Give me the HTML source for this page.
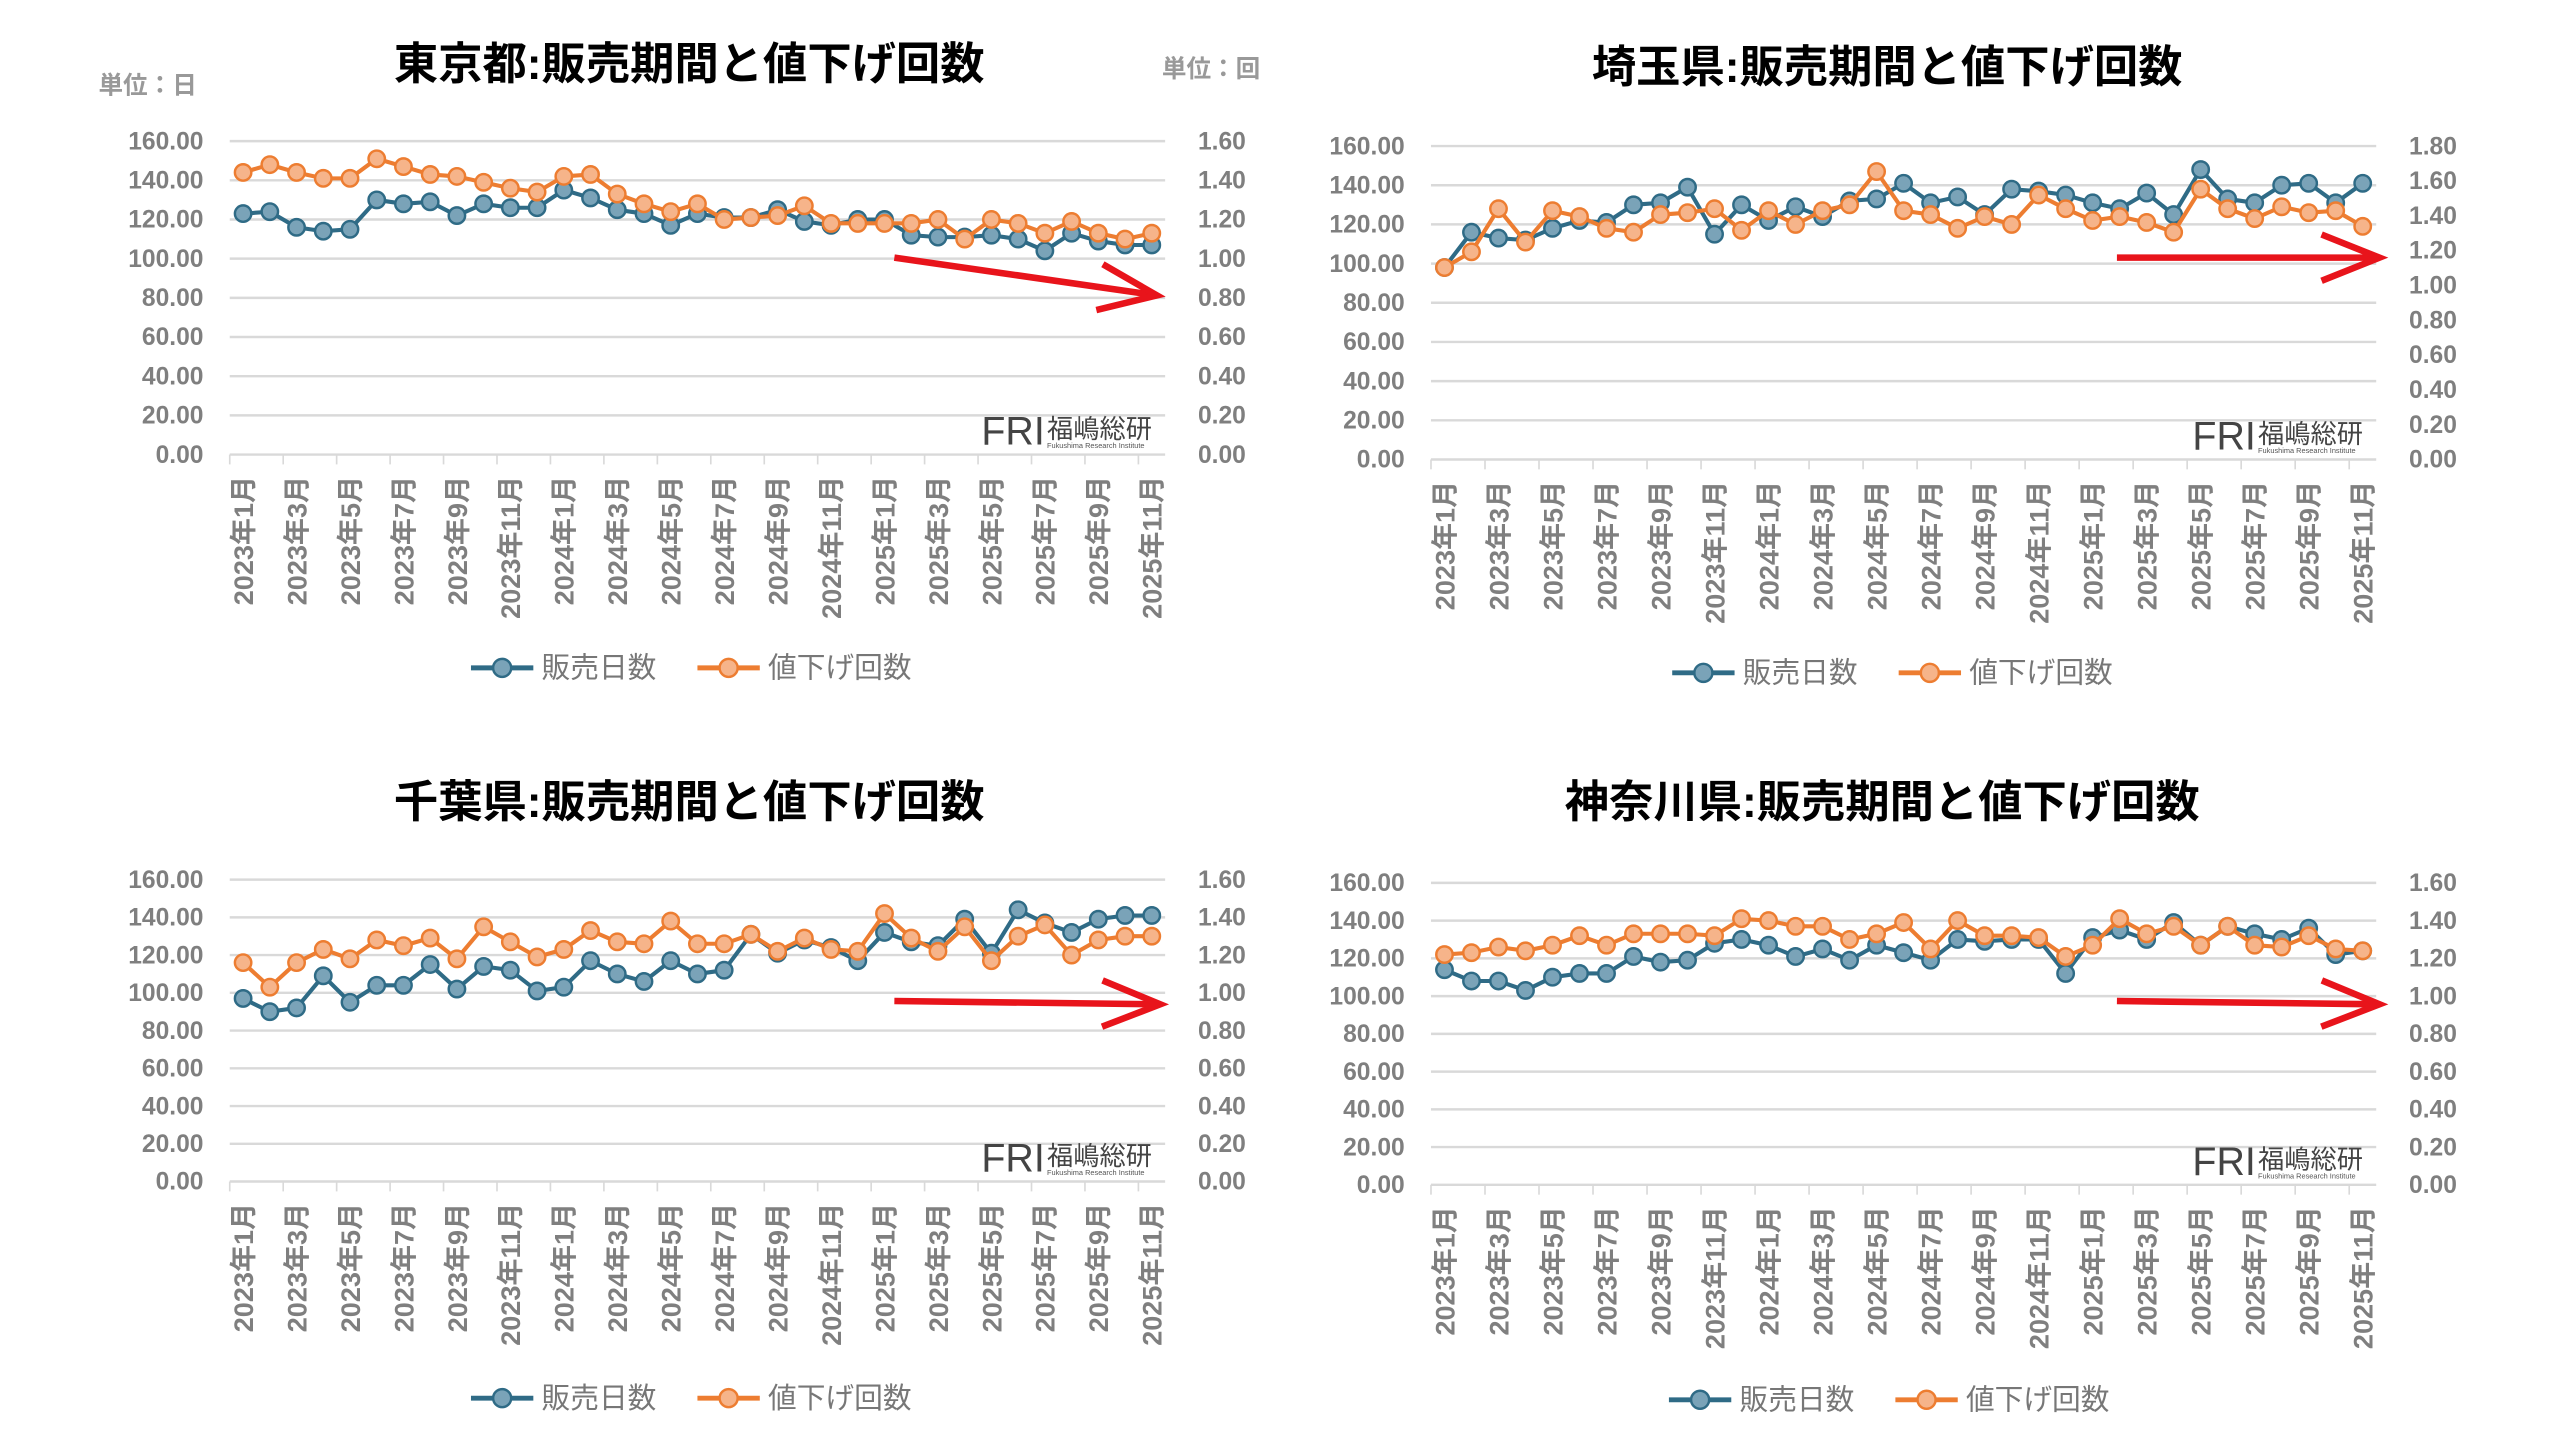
<!DOCTYPE html>
<html><head><meta charset="utf-8"><style>
html,body{margin:0;padding:0;background:#fff;}
svg{display:block;}
text{font-family:"Liberation Sans","Noto Sans CJK JP",sans-serif;}
</style></head><body>
<svg id="s" width="2560" height="1440" viewBox="0 0 1560 877.5" xmlns="http://www.w3.org/2000/svg"></svg>
<script>
const S=document.getElementById('s');let h='';
const charts=[
{t:'東京都:販売期間と値下げ回数',tx:420,ty:38,x0:140,x1:710,y160:86,y0:277,rmax:1.6,rstep:0.2,lx:420,ly:407,unit:true,
b:[123,124,116,114,115,130,128,129,122,128,126,126,135,131,125,123,117,123,121,121,125,119,117,120,120,112,111,111,112,110,104,113,109,107,107],
o:[144,148,144,141,141,151,147,143,142,139,136,134,142,143,133,128,124,128,120,121,122,127,118,118,118,118,120,110,120,118,113,119,113,110,113],
ar:[545,157,705,180]},
{t:'埼玉県:販売期間と値下げ回数',tx:1150,ty:40,x0:872,x1:1448,y160:89,y0:280,rmax:1.8,rstep:0.2,lx:1152,ly:410,
b:[98,116,113,112,118,122,121,130,131,139,115,130,122,129,124,132,133,141,131,134,125,138,137,135,131,128,136,125,148,133,131,140,141,131,141],
o:[98,106,128,111,127,124,118,116,125,126,128,117,127,120,127,130,147,127,125,118,124,120,135,128,122,124,121,116,138,128,123,129,126,127,119],
ar:[1290,157,1450,157]},
{t:'千葉県:販売期間と値下げ回数',tx:420,ty:488,x0:140,x1:710,y160:536,y0:720,rmax:1.6,rstep:0.2,lx:420,ly:852,
b:[97,90,92,109,95,104,104,115,102,114,112,101,103,117,110,106,117,110,112,131,121,128,124,117,132,127,125,139,121,144,137,132,139,141,141],
o:[116,103,116,123,118,128,125,129,118,135,127,119,123,133,127,126,138,126,126,131,122,129,123,122,142,129,122,135,117,130,136,120,128,130,130],
ar:[545,610,707,612]},
{t:'神奈川県:販売期間と値下げ回数',tx:1147,ty:488,x0:872,x1:1448,y160:538,y0:722,rmax:1.6,rstep:0.2,lx:1150,ly:853,
b:[114,108,108,103,110,112,112,121,118,119,128,130,127,121,125,119,127,123,119,130,129,130,130,112,131,135,130,139,127,137,133,130,136,122,124],
o:[122,123,126,124,127,132,127,133,133,133,132,141,140,137,137,130,133,139,125,140,132,132,131,121,127,141,133,137,127,137,127,126,132,125,124],
ar:[1290,610,1450,612]}
];
const gray='#7f7f7f',blue='#2f6b86',bf='#7aa3b8',org='#ed7d31',of='#f6b48a';
charts.forEach(c=>{
 const Y=v=>c.y0-(c.y0-c.y160)*v/160;
 h+=`<text x="${c.tx}" y="${c.ty+10}" text-anchor="middle" font-size="27" font-weight="bold" fill="#000">${c.t}</text>`;
 if(c.unit){h+=`<text x="60" y="57" font-size="15" font-weight="bold" fill="#999">単位：日</text><text x="708" y="47" font-size="15" font-weight="bold" fill="#999">単位：回</text>`;}
 for(let v=0;v<=160;v+=20){const y=Y(v);h+=`<line x1="${c.x0}" x2="${c.x1}" y1="${y}" y2="${y}" stroke="#d9d9d9" stroke-width="1.5"/>`;
  h+=`<text x="${c.x0-16}" y="${y+5}" text-anchor="end" font-size="15" font-weight="bold" fill="${gray}">${v.toFixed(2)}</text>`;}
 const n=Math.round(c.rmax/c.rstep);
 for(let i=0;i<=n;i++){const y=c.y0-(c.y0-c.y160)*i/n;h+=`<text x="${c.x1+20}" y="${y+5}" font-size="15" font-weight="bold" fill="${gray}">${(i*c.rstep).toFixed(2)}</text>`;}
 const step=(c.x1-c.x0)/35;const X=i=>c.x0+step*(i+0.5);
 for(let i=0;i<=35;i+=2){const x=c.x0+step*i;h+=`<line x1="${x}" x2="${x}" y1="${c.y0}" y2="${c.y0+6}" stroke="#d9d9d9"/>`;}
 for(let i=0;i<35;i+=2){const yr=2023+Math.floor(i/12),m=i%12+1;const x=X(i)+6,y=c.y0+13;
  h+=`<text transform="translate(${x},${y}) rotate(-90)" text-anchor="end" font-size="16.5" font-weight="bold" fill="${gray}">${yr}年${m}月</text>`;}
 const series=[[c.b,blue,bf],[c.o,org,of]];
 series.forEach(([d,col,f])=>{const pts=d.map((v,i)=>X(i).toFixed(1)+','+Y(v).toFixed(1)).join(' ');
  h+=`<polyline points="${pts}" fill="none" stroke="${col}" stroke-width="2.5"/>`;
  d.forEach((v,i)=>{h+=`<circle cx="${X(i)}" cy="${Y(v)}" r="5" fill="${f}" stroke="${col}" stroke-width="1.5"/>`;});});
 const lx=c.x1-112,ly=c.y0-6;
 h+=`<text x="${lx}" y="${ly}" font-size="24" fill="#444" font-family="Liberation Sans Narrow, Liberation Sans">FRI</text><text x="${lx+40}" y="${ly-4}" font-size="16" fill="#444">福嶋総研</text><text x="${lx+40}" y="${ly+2}" font-size="4.5" fill="#555">Fukushima Research Institute</text>`;
 const [a,b2,cx,d]=c.ar;const ang=Math.atan2(d-b2,cx-a);
 const hx=(t)=>[cx-38*Math.cos(ang+t),d-38*Math.sin(ang+t)];
 const p1=hx(0.38),p2=hx(-0.38);
 h+=`<line x1="${a}" y1="${b2}" x2="${cx}" y2="${d}" stroke="#e8141b" stroke-width="4"/><polyline points="${p1[0]},${p1[1]} ${cx},${d} ${p2[0]},${p2[1]}" fill="none" stroke="#e8141b" stroke-width="4"/>`;
 const L=c.lx-133;
 h+=`<line x1="${L}" x2="${L+38}" y1="${c.ly}" y2="${c.ly}" stroke="${blue}" stroke-width="3"/><circle cx="${L+19}" cy="${c.ly}" r="5.5" fill="${bf}" stroke="${blue}" stroke-width="1.5"/><text x="${L+43}" y="${c.ly+6}" font-size="17.5" fill="#777">販売日数</text>`;
 const L2=L+138;
 h+=`<line x1="${L2}" x2="${L2+38}" y1="${c.ly}" y2="${c.ly}" stroke="${org}" stroke-width="3"/><circle cx="${L2+19}" cy="${c.ly}" r="5.5" fill="${of}" stroke="${org}" stroke-width="1.5"/><text x="${L2+43}" y="${c.ly+6}" font-size="17.5" fill="#777">値下げ回数</text>`;
});
S.innerHTML=h;
</script>
</body></html>
